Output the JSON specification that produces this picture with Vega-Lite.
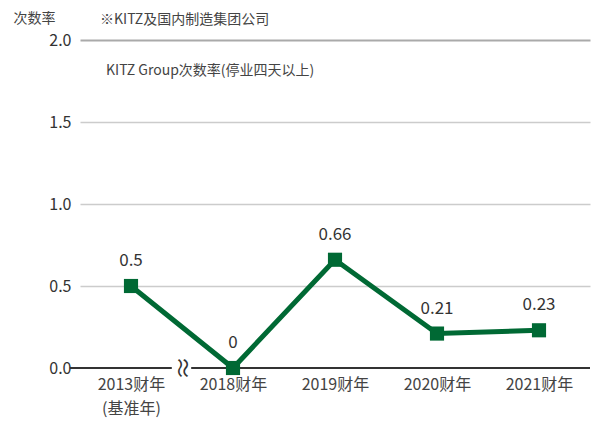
{
  "$schema": "https://vega.github.io/schema/vega-lite/v6.json",
  "width": 510,
  "height": 328,
  "autosize": {"type": "none"},
  "padding": {"left": 80, "top": 40, "right": 4, "bottom": 53},
  "background": "white",
  "config": {
    "font": "Noto Sans CJK SC",
    "view": {"stroke": null}
  },
  "title": {
    "text": "※KITZ及国内制造集团公司",
    "anchor": "start",
    "frame": "group",
    "dx": 20,
    "offset": -16,
    "fontSize": 14,
    "fontWeight": "normal",
    "color": "#444"
  },
  "data": {
    "values": [
      {"idx": 0, "year": "2013财年", "value": 0.5, "label": "0.5", "series": "KITZ Group次数率(停业四天以上)"},
      {"idx": 1, "year": "2018财年", "value": 0, "label": "0", "series": "KITZ Group次数率(停业四天以上)"},
      {"idx": 2, "year": "2019财年", "value": 0.66, "label": "0.66", "series": "KITZ Group次数率(停业四天以上)"},
      {"idx": 3, "year": "2020财年", "value": 0.21, "label": "0.21", "series": "KITZ Group次数率(停业四天以上)"},
      {"idx": 4, "year": "2021财年", "value": 0.23, "label": "0.23", "series": "KITZ Group次数率(停业四天以上)"}
    ]
  },
  "layer": [
    {
      "data": {"values": [{"x": -0.6, "x2": 0.4, "y": 0}, {"x": 0.59, "x2": 4.5, "y": 0}]},
      "mark": {"type": "rule", "color": "#333", "strokeWidth": 2.2},
      "encoding": {
        "x": {
          "field": "x", "type": "quantitative",
          "scale": {"domain": [-0.5, 4.5], "nice": false, "zero": false},
          "axis": {
            "values": [0, 1, 2, 3, 4],
            "labelExpr": "datum.value == 0 ? ['2013财年', '(基准年)'] : ['', '2018财年', '2019财年', '2020财年', '2021财年'][datum.value]",
            "domain": false, "ticks": false, "grid": false, "title": null,
            "labelFontSize": 16, "labelColor": "#444", "labelPadding": 8, "labelLineHeight": 24
          }
        },
        "x2": {"field": "x2"},
        "y": {
          "field": "y", "type": "quantitative",
          "scale": {"domain": [0, 2], "nice": false},
          "axis": {
            "values": [0, 0.5, 1, 1.5, 2], "format": ".1f",
            "domain": false, "ticks": false,
            "grid": true,
            "gridColor": {"condition": {"test": "datum.value == 2", "value": "#aaaaaa"}, "value": "#cccccc"},
            "gridWidth": {"condition": {"test": "datum.value == 2", "value": 2}, "value": 1.5},
            "gridOpacity": {"condition": {"test": "datum.value == 0", "value": 0}, "value": 1},
            "labelFontSize": 16, "labelColor": "#333", "labelPadding": 9,
            "title": "次数率", "titleAngle": 0, "titleX": -67, "titleY": -22,
            "titleAlign": "left", "titleBaseline": "middle",
            "titleFontSize": 14, "titleFontWeight": "normal", "titleColor": "#444"
          }
        }
      }
    },
    {
      "data": {"values": [{"x": 0.49, "y": 0, "sym": "≈"}]},
      "mark": {"type": "text", "angle": 90, "fontSize": 24, "color": "#333", "align": "center", "baseline": "middle"},
      "encoding": {
        "x": {"field": "x", "type": "quantitative"},
        "y": {"field": "y", "type": "quantitative"},
        "text": {"field": "sym"}
      }
    },
    {
      "mark": {"type": "line", "strokeWidth": 5},
      "encoding": {
        "x": {"field": "idx", "type": "quantitative"},
        "y": {"field": "value", "type": "quantitative"},
        "color": {
          "field": "series", "type": "nominal",
          "scale": {"range": ["#006934"]},
          "legend": {
            "orient": "none", "legendX": 12, "legendY": 24, "title": null,
            "symbolOpacity": 0, "symbolSize": 0, "symbolStrokeWidth": 0, "labelOffset": 0,
            "labelFontSize": 14, "labelColor": "#444", "labelLimit": 400
          }
        }
      }
    },
    {
      "mark": {"type": "point", "shape": "square", "filled": true, "size": 200, "opacity": 1},
      "encoding": {
        "x": {"field": "idx", "type": "quantitative"},
        "y": {"field": "value", "type": "quantitative"},
        "color": {"field": "series", "type": "nominal"}
      }
    },
    {
      "mark": {"type": "text", "dy": -25, "fontSize": 17, "color": "#333"},
      "encoding": {
        "x": {"field": "idx", "type": "quantitative"},
        "y": {"field": "value", "type": "quantitative"},
        "text": {"field": "label"}
      }
    }
  ]
}
